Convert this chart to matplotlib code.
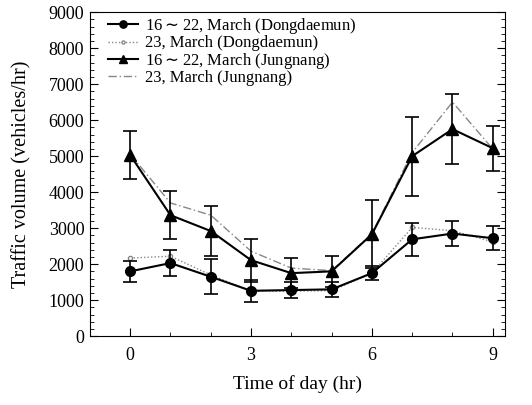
import matplotlib
matplotlib.use("Agg")
import matplotlib.pyplot as plt
from matplotlib.ticker import MultipleLocator

plt.rcParams['font.family'] = ['Liberation Serif', 'DejaVu Serif']

hours = [0, 1, 2, 3, 4, 5, 6, 7, 8, 9]

# 16~22 March, Dongdaemun (mean, error)
dong_week = [1800, 2030, 1650, 1260, 1280, 1300, 1750, 2690, 2850, 2720]
dong_week_err = [300, 360, 480, 300, 230, 200, 200, 460, 350, 340]
# 23 March, Dongdaemun
dong_23 = [2170, 2220, 1700, 1250, 1250, 1260, 1750, 3020, 2930, 2620]
# 16~22 March, Jungnang
jung_week = [5030, 3360, 2920, 2110, 1750, 1800, 2830, 5000, 5750, 5220]
jung_week_err = [670, 670, 700, 600, 420, 440, 950, 1100, 980, 620]
# 23 March, Jungnang
jung_23 = [5050, 3700, 3360, 2360, 1890, 1820, 2850, 5100, 6500, 5200]

fig = plt.figure(figsize=(5.32, 4.05), dpi=100)
ax = fig.add_axes([0.169, 0.170, 0.780, 0.800])

eb1 = ax.errorbar(hours, dong_week, yerr=dong_week_err, color='black', lw=1.5,
                  marker='o', ms=7, capsize=5, elinewidth=1.2, capthick=1.2,
                  zorder=4)
l2, = ax.plot(hours, dong_23, color='#888888', lw=1.0, ls=(0, (1, 1.5)),
              marker='o', ms=3, mfc='white', mec='#888888', zorder=3)
eb3 = ax.errorbar(hours, jung_week, yerr=jung_week_err, color='black', lw=1.5,
                  marker='^', ms=8, capsize=5, elinewidth=1.2, capthick=1.2,
                  zorder=4)
l4, = ax.plot(hours, jung_23, color='#888888', lw=1.0, ls=(0, (6, 2, 1, 2)),
              zorder=3)

ax.set_xlim(-1, 9.3)
ax.set_ylim(0, 9000)
ax.set_xticks([0, 3, 6, 9])
ax.xaxis.set_minor_locator(MultipleLocator(1))
ax.yaxis.set_major_locator(MultipleLocator(1000))
ax.yaxis.set_minor_locator(MultipleLocator(200))
ax.tick_params(which='both', direction='in', right=True, labelsize=13)
ax.tick_params(which='major', length=6)
ax.tick_params(which='minor', length=3)
ax.tick_params(axis='x', pad=8)
ax.tick_params(axis='y', pad=4)

ax.set_xlabel('Time of day (hr)', fontsize=14, labelpad=8)
ax.set_ylabel('Traffic volume (vehicles/hr)', fontsize=14.5, labelpad=12)

labels = ['16$\\sim$22, March (Dongdaemun)', '23, March (Dongdaemun)',
          '16$\\sim$22, March (Jungnang)', '23, March (Jungnang)']
ax.legend([eb1.lines[0], l2, eb3.lines[0], l4], labels,
          loc='upper left', bbox_to_anchor=(0.02, 1.018), fontsize=12,
          frameon=False, handlelength=1.8, handletextpad=0.4,
          labelspacing=-0.05, borderaxespad=0.2, markerscale=0.75)

fig.savefig('out.png', dpi=100)
